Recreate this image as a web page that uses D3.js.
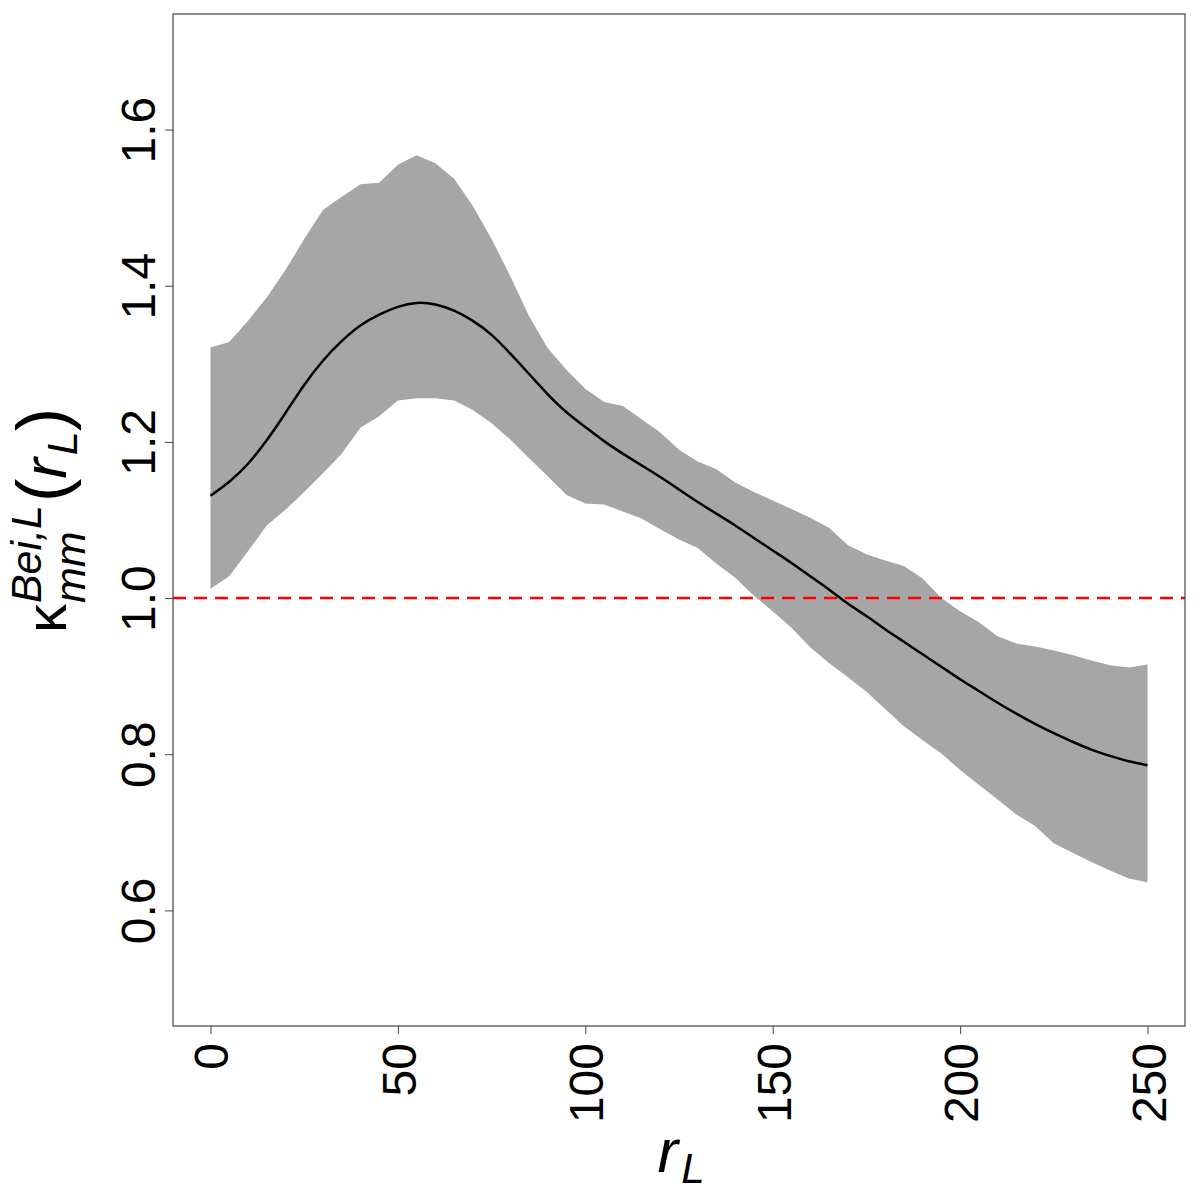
<!DOCTYPE html>
<html>
<head>
  <meta charset="utf-8">
  <script src="https://d3js.org/d3.v7.min.js"></script>
  <style>
    body { margin: 0; background: #fff; }
    svg { display: block; }
    .tick-label { font: 48px "Liberation Sans", Arial, sans-serif; fill: #000; }
    .title { font-family: "Liberation Sans", Arial, sans-serif; fill: #000; }
  </style>
</head>
<body>
  <svg width="1200" height="1200"></svg>
  <script>
    // distance r_L (steps of 5)
    var rValues = d3.range(0, 251, 5);

    // upper edge of the grey envelope
    var upperValues = [
      1.321, 1.328, 1.355, 1.385, 1.420, 1.460, 1.497, 1.514, 1.530, 1.532,
      1.555, 1.567, 1.557, 1.537, 1.502, 1.460, 1.412, 1.361, 1.320, 1.292,
      1.268, 1.251, 1.246, 1.229, 1.212, 1.190, 1.175, 1.165, 1.148, 1.136,
      1.125, 1.114, 1.103, 1.090, 1.068, 1.056, 1.048, 1.041, 1.025, 1.000,
      0.983, 0.969, 0.951, 0.942, 0.938, 0.933, 0.927, 0.920, 0.914, 0.911,
      0.915
    ];

    // lower edge of the grey envelope
    var lowerValues = [
      1.012, 1.028, 1.060, 1.093, 1.113, 1.136, 1.160, 1.185, 1.218, 1.233,
      1.253, 1.256, 1.256, 1.253, 1.241, 1.224, 1.203, 1.179, 1.156, 1.132,
      1.121, 1.120, 1.111, 1.102, 1.088, 1.075, 1.064, 1.044, 1.026, 1.003,
      0.983, 0.962, 0.937, 0.917, 0.899, 0.880, 0.858, 0.836, 0.818, 0.801,
      0.780, 0.761, 0.742, 0.723, 0.708, 0.686, 0.674, 0.662, 0.651, 0.641,
      0.636
    ];

    // estimated curve (black line)
    var meanValues = [
      1.131, 1.149, 1.172, 1.202, 1.237, 1.273, 1.304, 1.329, 1.349, 1.363,
      1.373, 1.378, 1.376, 1.368, 1.355, 1.337, 1.313, 1.287, 1.261, 1.238,
      1.219, 1.201, 1.185, 1.170, 1.155, 1.139, 1.123, 1.108, 1.093, 1.077,
      1.061, 1.045, 1.028, 1.011, 0.993, 0.977, 0.960, 0.944, 0.928, 0.912,
      0.896, 0.881, 0.866, 0.852, 0.839, 0.827, 0.816, 0.806, 0.798, 0.791,
      0.786
    ];

    var refLevel = 1.0;
    var xTicks = [0, 50, 100, 150, 200, 250];
    var yTicks = [0.6, 0.8, 1.0, 1.2, 1.4, 1.6];

    var svg = d3.select("svg"),
        margin = {top: 14, right: 15, bottom: 174, left: 173},
        width = +svg.attr("width") - margin.left - margin.right,
        height = +svg.attr("height") - margin.top - margin.bottom;

    var g = svg.append("g").attr("transform", "translate(" + margin.left + "," + margin.top + ")");

    var data = rValues.map(function(r, i) {
      return {r: r, lo: lowerValues[i], hi: upperValues[i], m: meanValues[i]};
    });

    // R style 4% padding on both axes
    var x = d3.scaleLinear().domain([-10, 260]).range([0, width]);
    var y = d3.scaleLinear().domain([0.452, 1.748]).range([height, 0]);

    // envelope
    g.append("path")
      .datum(data)
      .attr("fill", "#a6a6a6")
      .attr("d", d3.area()
        .x(d => x(d.r))
        .y0(d => y(d.lo))
        .y1(d => y(d.hi)));

    // reference line at 1
    g.append("line")
      .attr("x1", 0).attr("x2", width)
      .attr("y1", y(refLevel)).attr("y2", y(refLevel))
      .attr("stroke", "#ff0000")
      .attr("stroke-width", 2.5)
      .attr("stroke-dasharray", "13,8");

    // mean curve
    g.append("path")
      .datum(data)
      .attr("fill", "none")
      .attr("stroke", "#000")
      .attr("stroke-width", 2.5)
      .attr("d", d3.line().curve(d3.curveNatural)
        .x(d => x(d.r))
        .y(d => y(d.m)));

    // box
    g.append("rect")
      .attr("width", width).attr("height", height)
      .attr("fill", "none")
      .attr("stroke", "#444")
      .attr("stroke-width", 1.2);

    // x axis
    var xAxis = g.append("g")
      .attr("transform", "translate(0," + height + ")")
      .call(d3.axisBottom(x).tickValues(xTicks).tickSize(8).tickFormat(d3.format("d")));
    xAxis.select(".domain").remove();
    xAxis.selectAll(".tick line").attr("stroke", "#444");
    xAxis.selectAll(".tick text")
      .attr("class", "tick-label")
      .attr("x", 0).attr("y", 0).attr("dy", null)
      .attr("text-anchor", "end")
      .attr("transform", "translate(17.5,17) rotate(-90)")
      .style("font", null);

    // y axis
    var yAxis = g.append("g")
      .call(d3.axisLeft(y).tickValues(yTicks).tickSize(8).tickFormat(d3.format(".1f")));
    yAxis.select(".domain").remove();
    yAxis.selectAll(".tick line").attr("stroke", "#444");
    yAxis.selectAll(".tick text")
      .attr("class", "tick-label")
      .attr("x", 0).attr("y", 0).attr("dy", null)
      .attr("text-anchor", "middle")
      .attr("transform", "translate(-18,0) rotate(-90)")
      .style("font", null);
    svg.selectAll(".tick text").attr("fill", "#000");

    // x title: r_L
    var xt = svg.append("text")
      .attr("class", "title")
      .attr("x", margin.left + width / 2 + 2)
      .attr("y", 1172)
      .attr("text-anchor", "middle");
    xt.append("tspan").attr("font-size", 62).attr("font-style", "italic").text("r");
    xt.append("tspan").attr("font-size", 42).attr("font-style", "italic").attr("dx", 3).attr("dy", 11).text("L");

    // y title: kappa_mm^{Bei,L}(r_L)
    var yt = svg.append("g")
      .attr("transform", "translate(66," + (margin.top + height / 2 + 2) + ") rotate(-90)");
    var kap = yt.append("text").attr("class", "title")
      .attr("font-size", 58).attr("font-family", "DejaVu Sans").text("κ");
    var w1 = kap.node().getComputedTextLength();
    var sup = yt.append("text").attr("class", "title")
      .attr("font-size", 43).attr("font-style", "italic")
      .attr("x", w1 + 1).attr("y", -25).text("Bei,L");
    var sub = yt.append("text").attr("class", "title")
      .attr("font-size", 43).attr("font-style", "italic")
      .attr("x", w1 + 1).attr("y", 19).text("mm");
    var w2 = Math.max(sup.node().getComputedTextLength(), sub.node().getComputedTextLength()) + 4;
    var rest = yt.append("text").attr("class", "title")
      .attr("x", w1 + w2);
    rest.append("tspan").attr("font-size", 70).text("(");
    rest.append("tspan").attr("font-size", 62).attr("font-style", "italic").text("r");
    rest.append("tspan").attr("font-size", 43).attr("font-style", "italic").attr("dx", 3).attr("dy", 11).text("L");
    rest.append("tspan").attr("font-size", 70).attr("dy", -11).text(")");
    var total = w1 + w2 + rest.node().getComputedTextLength();
    var shift = -total / 2;
    yt.selectAll("text").each(function() {
      var t = d3.select(this);
      t.attr("x", (+t.attr("x") || 0) + shift);
    });
  </script>
</body>
</html>
